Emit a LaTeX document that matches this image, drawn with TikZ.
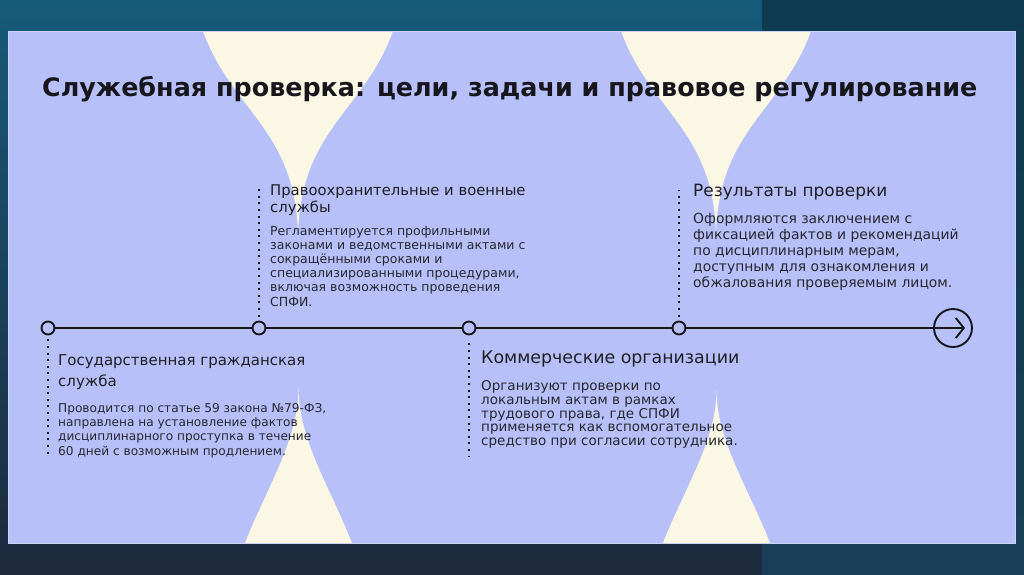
\documentclass[tikz,border=0pt]{standalone}
\usepackage{fontspec}
\setmainfont{DejaVu Sans}
\usetikzlibrary{arrows.meta}
\definecolor{lav}{HTML}{B8C0FA}
\definecolor{cream}{HTML}{FAF8E4}
\definecolor{ink}{HTML}{16161C}
\definecolor{headc}{HTML}{1E1E24}
\definecolor{bodyc}{HTML}{26272F}
\definecolor{bgtop}{HTML}{165A7A}
\definecolor{bgbot}{HTML}{1D293D}
\definecolor{rtop}{HTML}{0E3A50}
\definecolor{rbot}{HTML}{183F57}
\tikzset{
  tl/.style={line width=1.9pt, draw=ink},
  dotnode/.style={circle, draw=ink, line width=1.9pt, fill=lav, minimum size=13pt, inner sep=0pt},
  endnode/.style={circle, draw=ink, line width=1.9pt, minimum size=38pt, inner sep=0pt},
  dotline/.style={draw=ink, line width=1.9pt, dash pattern=on 1.9pt off 4.7pt},
  txt/.style={anchor=base west, inner sep=0pt},
}
\begin{document}
\begin{tikzpicture}[x=1pt,y=-1pt]
\useasboundingbox (0,0) rectangle (1024,574);
% background
\shade[top color=bgtop, bottom color=bgbot] (0,0) rectangle (762,574);
\shade[top color=rtop, bottom color=rbot] (762,0) rectangle (1024,574);
% slide
\fill[lav] (8,31) rectangle (1015,543);
% cream shapes
\fill[cream] (203,31) .. controls (232,112) and (298,130) .. (298,240)
  .. controls (298,130) and (364,112) .. (393,31) -- cycle;
\fill[cream] (621,31) .. controls (650,112) and (716,130) .. (716,240)
  .. controls (716,130) and (782,112) .. (811,31) -- cycle;
\fill[cream] (245,543) .. controls (268,485) and (298.5,440) .. (298.5,387)
  .. controls (298.5,440) and (329,485) .. (352,543) -- cycle;
\fill[cream] (663,543) .. controls (686,485) and (716.5,440) .. (716.5,390)
  .. controls (716.5,440) and (747,485) .. (770,543) -- cycle;
\draw[draw=lav!70!white, line width=0.6pt] (8,31) rectangle (1015,543);
% title
\node[txt, text=ink] (title) at (42,96.5) {\fontsize{25.4}{30}\selectfont\bfseries Служебная проверка: цели, задачи и правовое регулирование};
% timeline nodes
\node[dotnode] (n1) at (48,328) {};
\node[dotnode] (n2) at (259,328) {};
\node[dotnode] (n3) at (469,328) {};
\node[dotnode] (n4) at (679,328) {};
\node[endnode] (end) at (953,328) {};
\coordinate (tip) at (965,328);
\draw[tl] (n1) -- (n2);
\draw[tl] (n2) -- (n3);
\draw[tl] (n3) -- (n4);
\draw[tl, -{Straight Barb[length=8pt, width=20pt, line width=1.9pt]}] (n4) -- (tip);
% dotted leaders
\coordinate (d1) at (48,458);
\coordinate (d2) at (259,188);
\coordinate (d3) at (469,457);
\coordinate (d4) at (679,190);
\draw[dotline] ([yshift=-4pt]n1.south) -- (d1);
\draw[dotline] ([yshift=4pt]n2.north) -- (d2);
\draw[dotline] ([yshift=-8pt]n3.south) -- (d3);
\draw[dotline] ([yshift=4pt]n4.north) -- (d4);
% texts
\node[txt, text=headc] (h1) at (58,365.5) {\parbox[t]{320pt}{\fontsize{15}{20.5}\selectfont Государственная гражданская\\служба}};
\node[txt, text=bodyc] (b1) at (58,412.5) {\parbox[t]{320pt}{\fontsize{12.15}{14.2}\selectfont Проводится по статье 59 закона №79-ФЗ,\\направлена на установление фактов\\дисциплинарного проступка в течение\\60 дней с возможным продлением.}};
\node[txt, text=headc] (h2) at (270,195.5) {\parbox[t]{320pt}{\fontsize{14.8}{16.8}\selectfont Правоохранительные и военные\\службы}};
\node[txt, text=bodyc] (b2) at (270,235) {\parbox[t]{320pt}{\fontsize{12.5}{14.2}\selectfont Регламентируется профильными\\законами и ведомственными актами с\\сокращёнными сроками и\\специализированными процедурами,\\включая возможность проведения\\СПФИ.}};
\node[txt, text=headc] (h3) at (481,363.5) {\fontsize{17.4}{20}\selectfont Коммерческие организации};
\node[txt, text=bodyc] (b3) at (481,390.5) {\parbox[t]{320pt}{\fontsize{13.5}{13.8}\selectfont Организуют проверки по\\локальным актам в рамках\\трудового права, где СПФИ\\применяется как вспомогательное\\средство при согласии сотрудника.}};
\node[txt, text=headc] (h4) at (693,196.5) {\fontsize{16.95}{20}\selectfont Результаты проверки};
\node[txt, text=bodyc] (b4) at (693,223.8) {\parbox[t]{320pt}{\fontsize{13.9}{15.8}\selectfont Оформляются заключением с\\фиксацией фактов и рекомендаций\\по дисциплинарным мерам,\\доступным для ознакомления и\\обжалования проверяемым лицом.}};
\end{tikzpicture}
\end{document}
